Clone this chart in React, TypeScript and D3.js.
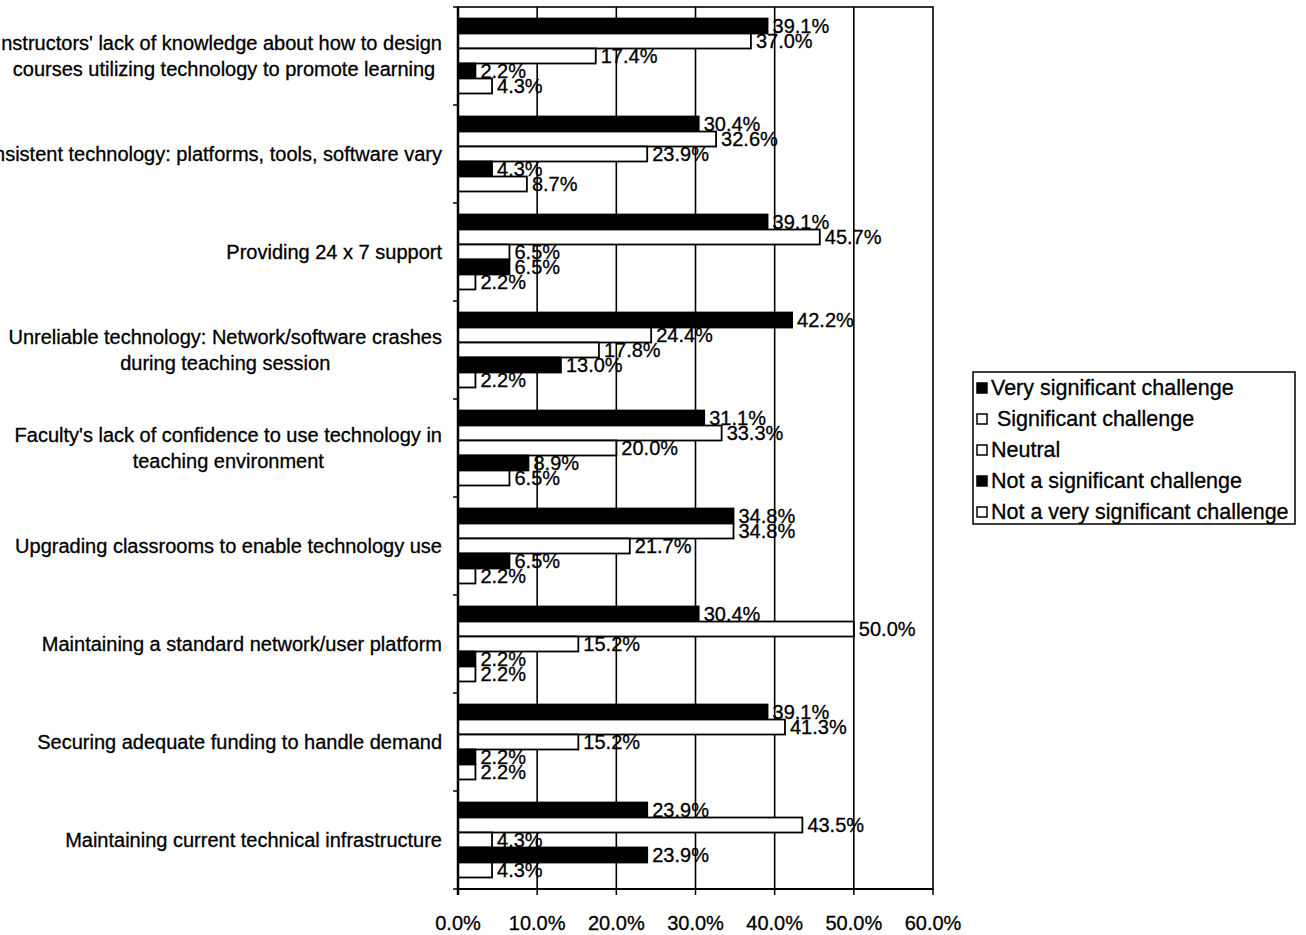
import React, { useEffect, useRef } from "react";
import * as d3 from "d3";

const categories: string[][] = [
  ["Instructors' lack of knowledge about how to design", "courses utilizing technology to promote learning"],
  ["Inconsistent technology: platforms, tools, software vary"],
  ["Providing 24 x 7 support"],
  ["Unreliable technology: Network/software crashes", "during teaching session"],
  ["Faculty's lack of confidence to use technology in", "teaching environment"],
  ["Upgrading classrooms to enable technology use"],
  ["Maintaining a standard network/user platform"],
  ["Securing adequate funding to handle demand"],
  ["Maintaining current technical infrastructure"],
];

const seriesNames = [
  "Very significant challenge",
  " Significant challenge",
  "Neutral",
  "Not a significant challenge",
  "Not a very significant challenge",
];
const seriesFill = ["#000", "#fff", "#fff", "#000", "#fff"];

const verySignificant = [0.391, 0.304, 0.391, 0.422, 0.311, 0.348, 0.304, 0.391, 0.239];
const significant = [0.37, 0.326, 0.457, 0.244, 0.333, 0.348, 0.5, 0.413, 0.435];
const neutral = [0.174, 0.239, 0.065, 0.178, 0.2, 0.217, 0.152, 0.152, 0.043];
const notSignificant = [0.022, 0.043, 0.065, 0.13, 0.089, 0.065, 0.022, 0.022, 0.239];
const notVerySignificant = [0.043, 0.087, 0.022, 0.022, 0.065, 0.022, 0.022, 0.022, 0.043];

const seriesValues = [verySignificant, significant, neutral, notSignificant, notVerySignificant];
const xTicks = [0, 0.1, 0.2, 0.3, 0.4, 0.5, 0.6];

const FONT = "'Liberation Sans', Arial, sans-serif";

export default function App() {
  const ref = useRef<SVGSVGElement>(null);

  useEffect(() => {
    const svg = d3.select(ref.current);
    svg.selectAll("*").remove();

    const left = 458, right = 933, top = 7, bottom = 889;
    const x = d3.scaleLinear().domain([0, 0.6]).range([left, right]);
    const catIdx = categories.map((_, i) => String(i));
    const y0 = d3.scaleBand().domain(catIdx).range([top, bottom]).paddingInner(0.235).paddingOuter(0.1175);
    const y1 = d3.scaleBand().domain(seriesNames).range([0, y0.bandwidth()]);

    const g = svg.append("g");

    // gridlines
    g.selectAll("line.grid")
      .data(xTicks.slice(1, -1))
      .enter()
      .append("line")
      .attr("x1", (d) => x(d))
      .attr("x2", (d) => x(d))
      .attr("y1", top)
      .attr("y2", bottom)
      .attr("stroke", "#000")
      .attr("stroke-width", 1.6);

    // frame
    g.append("rect")
      .attr("x", left)
      .attr("y", top)
      .attr("width", right - left)
      .attr("height", bottom - top)
      .attr("fill", "none")
      .attr("stroke", "#000")
      .attr("stroke-width", 1.6);

    // bars
    seriesValues.forEach((vals, si) => {
      g.selectAll(`rect.s${si}`)
        .data(vals)
        .enter()
        .append("rect")
        .attr("x", x(0))
        .attr("y", (_, i) => (y0(String(i)) as number) + (y1(seriesNames[si]) as number))
        .attr("width", (d) => x(d) - x(0))
        .attr("height", y1.bandwidth())
        .attr("fill", seriesFill[si])
        .attr("stroke", "#000")
        .attr("stroke-width", 1.8);
    });

    // data labels
    seriesValues.forEach((vals, si) => {
      g.selectAll(`text.l${si}`)
        .data(vals)
        .enter()
        .append("text")
        .attr("x", (d) => x(d) + 5)
        .attr("y", (_, i) => (y0(String(i)) as number) + (y1(seriesNames[si]) as number) + y1.bandwidth() / 2)
        .attr("dominant-baseline", "central")
        .attr("font-family", FONT)
        .attr("font-size", 20)
        .attr("fill", "#000")
        .attr("stroke", "#000")
        .attr("stroke-width", 0.3)
        .text((d) => d3.format(".1%")(d));
    });

    // left axis line + ticks
    g.append("line")
      .attr("x1", left)
      .attr("x2", left)
      .attr("y1", top)
      .attr("y2", bottom + 6)
      .attr("stroke", "#000")
      .attr("stroke-width", 2.5);
    const bounds = d3.range(categories.length + 1).map((i) => top + (i * (bottom - top)) / categories.length);
    g.selectAll("line.yt")
      .data(bounds)
      .enter()
      .append("line")
      .attr("x1", left - 5)
      .attr("x2", left)
      .attr("y1", (d) => d)
      .attr("y2", (d) => d)
      .attr("stroke", "#000")
      .attr("stroke-width", 1.5);

    // bottom axis
    g.append("line")
      .attr("x1", left)
      .attr("x2", right)
      .attr("y1", bottom)
      .attr("y2", bottom)
      .attr("stroke", "#000")
      .attr("stroke-width", 2);
    g.selectAll("line.xt")
      .data(xTicks)
      .enter()
      .append("line")
      .attr("x1", (d) => x(d))
      .attr("x2", (d) => x(d))
      .attr("y1", bottom)
      .attr("y2", bottom + 6)
      .attr("stroke", "#000")
      .attr("stroke-width", 1.5);
    g.selectAll("text.xl")
      .data(xTicks)
      .enter()
      .append("text")
      .attr("x", (d) => x(d))
      .attr("y", 923)
      .attr("text-anchor", "middle")
      .attr("dominant-baseline", "central")
      .attr("font-family", FONT)
      .attr("font-size", 20)
      .attr("stroke", "#000")
      .attr("stroke-width", 0.3)
      .text((d) => d3.format(".1%")(d));

    // category labels: lines centred in a label box right-aligned to the axis,
    // the box width capped at the space available
    const labelRight = 442;
    const boxMax = 436;
    const lineH = 26;
    categories.forEach((lines, i) => {
      const cy = (y0(String(i)) as number) + y0.bandwidth() / 2;
      const texts = lines.map((ln, k) =>
        g
          .append("text")
          .attr("y", cy + (k - (lines.length - 1) / 2) * lineH)
          .attr("dominant-baseline", "central")
          .attr("text-anchor", "middle")
          .attr("font-family", FONT)
          .attr("font-size", 20)
          .attr("stroke", "#000")
          .attr("stroke-width", 0.3)
          .text(ln)
      );
      const widths = texts.map((t) => (t.node() as SVGTextElement).getComputedTextLength());
      const maxW = Math.max(...widths);
      const center = labelRight - Math.min(maxW, boxMax) / 2;
      texts.forEach((t, k) => t.attr("x", Math.min(center, labelRight - widths[k] / 2)));
    });

    // legend
    const lg = svg.append("g");
    lg.append("rect")
      .attr("x", 973)
      .attr("y", 372)
      .attr("width", 322)
      .attr("height", 152)
      .attr("fill", "#fff")
      .attr("stroke", "#000")
      .attr("stroke-width", 1.5);
    seriesNames.forEach((name, i) => {
      const cy = 388 + i * 31;
      lg.append("rect")
        .attr("x", 977)
        .attr("y", cy - 5)
        .attr("width", 10)
        .attr("height", 10)
        .attr("fill", seriesFill[i])
        .attr("stroke", "#000")
        .attr("stroke-width", 1.5);
      lg.append("text")
        .attr("x", 991)
        .attr("y", cy)
        .attr("dominant-baseline", "central")
        .attr("font-family", FONT)
        .attr("font-size", 21.5)
        .attr("stroke", "#000")
        .attr("stroke-width", 0.3)
        .style("white-space", "pre")
        .text(name);
    });
  }, []);

  return (
    <svg
      ref={ref}
      width={1306}
      height={935}
      style={{ position: "absolute", left: 0, top: 0, background: "#fff" }}
    />
  );
}
